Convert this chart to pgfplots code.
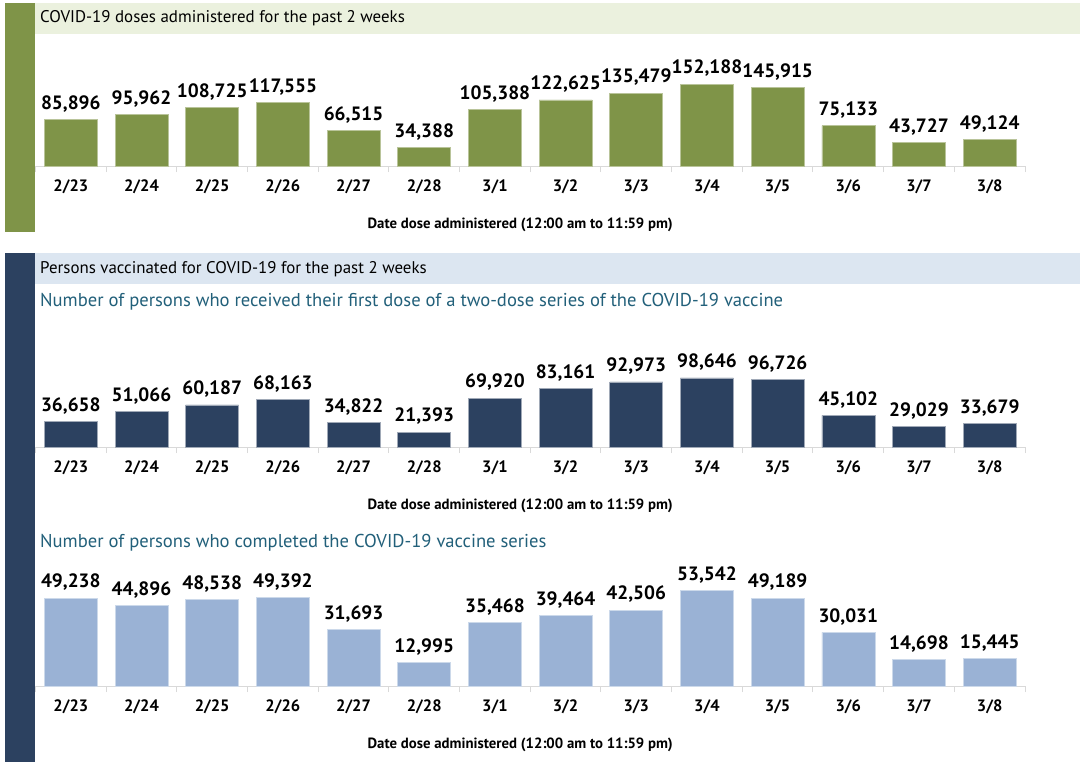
\documentclass[border=0pt]{standalone}
\usepackage{fontspec}
\setmainfont{PT Sans}
\usepackage{pgfplots}
\pgfplotsset{compat=1.18}
\definecolor{grn}{HTML}{7F9448}
\definecolor{navy}{HTML}{2C4160}
\definecolor{lblue}{HTML}{9AB2D5}
\definecolor{gband}{HTML}{EBF1DE}
\definecolor{bband}{HTML}{DCE6F1}
\definecolor{subc}{HTML}{22607A}
\definecolor{axgray}{HTML}{D9D9D9}
\pgfplotsset{
  panel/.style={
    scale only axis, width=989.5pt,
    xmin=-0.5, xmax=13.5, ymin=0,
    axis x line*=bottom, axis y line=none,
    ytick=\empty,
    xtick={0,...,13},
    xticklabels={2/23,2/24,2/25,2/26,2/27,2/28,3/1,3/2,3/3,3/4,3/5,3/6,3/7,3/8},
    major tick length=0pt,
    extra x ticks={-0.5,0.5,...,13.5},
    extra x tick labels={},
    extra x tick style={major tick length=6pt, tick style={axgray, line width=1pt}, tick align=outside},
    x axis line style={axgray, line width=1pt, -},
    xticklabel style={font=\fontsize{16.5}{16.5}\selectfont\bfseries, yshift=-10pt},
    ybar, bar width=53pt, bar shift=0pt,
    clip=false,
    nodes near coords,
    /pgf/number format/assume math mode=true,
    /pgf/number format/fixed,
    /pgf/number format/precision=0,
    /pgf/number format/1000 sep={,},
    every node near coord/.append style={font=\fontsize{19.3}{19.3}\selectfont\bfseries, inner sep=2pt, yshift=5pt, text=black},
    xlabel={Date dose administered (12:00 am to 11:59 pm)},
    every axis x label/.style={at={(axis description cs:0.5,0)}, anchor=center, xshift=-10pt, yshift=-59pt, font=\fontsize{14.8}{14.8}\selectfont\bfseries},
  }
}
\begin{document}
\begin{tikzpicture}[x=1pt,y=1pt]
\fill[white] (0pt,0pt) rectangle (1080pt,-768pt);
\useasboundingbox (0pt,0pt) rectangle (1080pt,-768pt);
% panel 1 header
\fill[grn] (5pt,-3pt) rectangle (35pt,-232pt);
\fill[gband] (35pt,-3pt) rectangle (1080pt,-34pt);
\node[anchor=west, font=\fontsize{16.9}{16.9}\selectfont, inner sep=0pt] at (40pt,-18pt) {COVID-19 doses administered for the past 2 weeks};
% panel 2/3 header
\fill[navy] (5pt,-253pt) rectangle (35pt,-762pt);
\fill[bband] (35pt,-253pt) rectangle (1080pt,-284pt);
\node[anchor=west, font=\fontsize{16.9}{16.9}\selectfont, inner sep=0pt] at (40pt,-269pt) {Persons vaccinated for COVID-19 for the past 2 weeks};
\node[anchor=west, font=\fontsize{18.6}{18.6}\selectfont, text=subc, inner sep=0pt] at (40pt,-302pt) {Number of persons who received their first dose of a two-dose series of the COVID-19 vaccine};
\node[anchor=west, font=\fontsize{18.6}{18.6}\selectfont, text=subc, inner sep=0pt] at (40pt,-543pt) {Number of persons who completed the COVID-19 vaccine series};

\begin{axis}[panel, at={(35.5pt,-166pt)}, anchor=south west, height=100pt, ymax=185595]
\addplot[fill=grn, draw=white!45!grn, line width=0.6pt] coordinates {
(0,85896) (1,95962) (2,108725) (3,117555) (4,66515) (5,34388) (6,105388)
(7,122625) (8,135479) (9,152188) (10,145915) (11,75133) (12,43727) (13,49124)};
\end{axis}

\begin{axis}[panel, at={(35.5pt,-447pt)}, anchor=south west, height=80pt, ymax=114155]
\addplot[fill=navy, draw=white!55!navy, line width=0.6pt] coordinates {
(0,36658) (1,51066) (2,60187) (3,68163) (4,34822) (5,21393) (6,69920)
(7,83161) (8,92973) (9,98646) (10,96726) (11,45102) (12,29029) (13,33679)};
\end{axis}

\begin{axis}[panel, at={(35.5pt,-686pt)}, anchor=south west, height=100pt, ymax=55952]
\addplot[fill=lblue, draw=white!50!lblue, line width=0.6pt] coordinates {
(0,49238) (1,44896) (2,48538) (3,49392) (4,31693) (5,12995) (6,35468)
(7,39464) (8,42506) (9,53542) (10,49189) (11,30031) (12,14698) (13,15445)};
\end{axis}
\end{tikzpicture}
\end{document}
